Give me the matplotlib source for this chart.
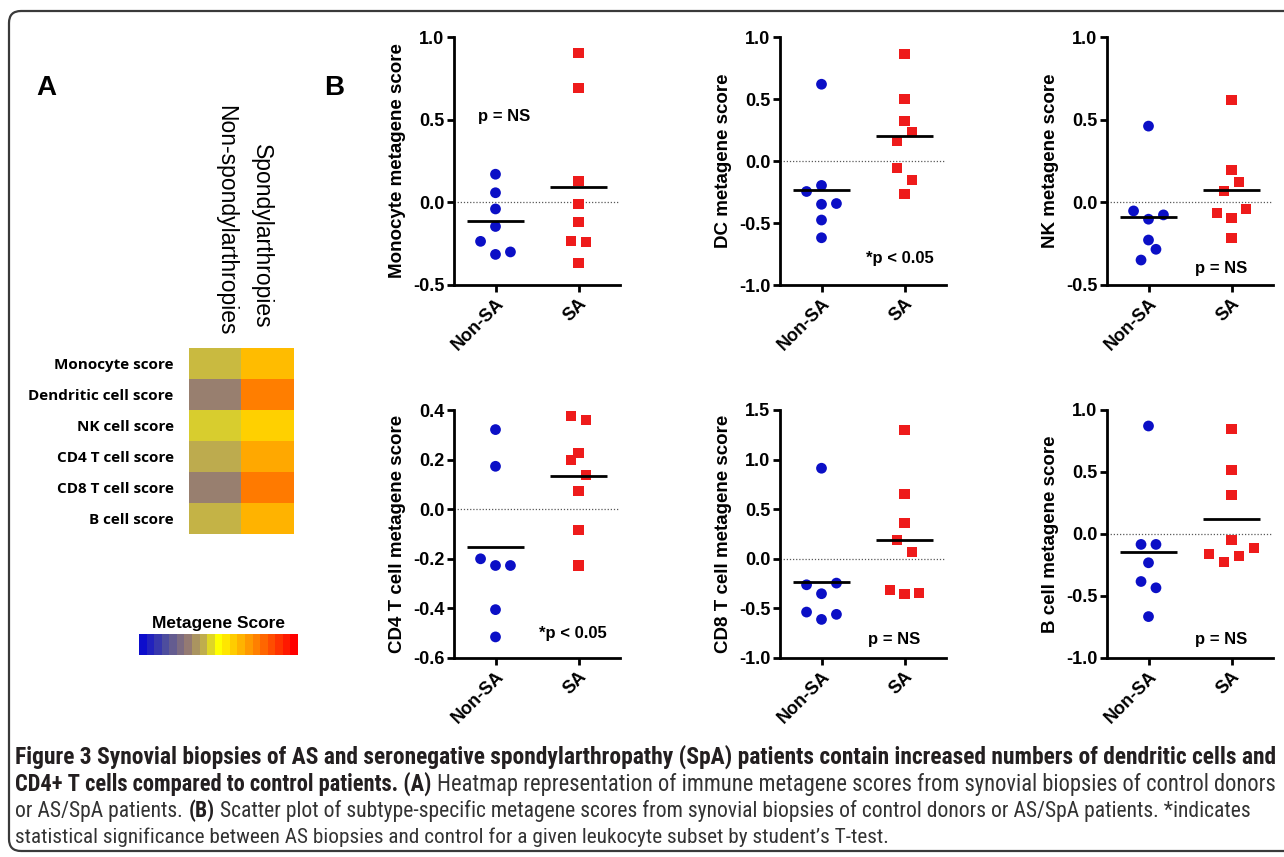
import numpy as np
import matplotlib
matplotlib.use("Agg")
import matplotlib as mpl
import matplotlib.pyplot as plt
from matplotlib import font_manager
from matplotlib.colors import LinearSegmentedColormap, Normalize
from matplotlib.patches import FancyBboxPatch
from matplotlib.ticker import FormatStrFormatter

plt.rcParams["font.family"] = ["Liberation Sans", "DejaVu Sans"]
plt.rcParams["axes.unicode_minus"] = False

# ---------------- data ----------------
groups = ["Non-SA", "SA"]

# heatmap (panel A)
heat_rows = ["Monocyte score", "Dendritic cell score", "NK cell score",
             "CD4 T cell score", "CD8 T cell score", "B cell score"]
heat_cols = ["Non-spondylarthropies", "Spondylarthropies"]
heat_non = [-0.17, -0.38, -0.12, -0.21, -0.38, -0.18]
heat_sa = [0.26, 0.50, 0.18, 0.34, 0.52, 0.29]

# scatter panels (panel B): values, and horizontal spread slot of each point
mono_non = [0.17, 0.058, -0.04, -0.146, -0.236, -0.315, -0.30]
mono_sa = [0.905, 0.69, 0.132, -0.009, -0.12, -0.234, -0.242, -0.365]
mono_non_slot = [0, 0, 0, 0, -2, 0, 2]
mono_sa_slot = [0, 0, 0, 0, 0, -1, 1, 0]

dc_non = [0.619, -0.197, -0.246, -0.349, -0.343, -0.476, -0.619]
dc_sa = [0.862, 0.497, 0.324, 0.23, 0.162, -0.059, -0.151, -0.27]
dc_non_slot = [0, 0, -2, 0, 2, 0, 0]
dc_sa_slot = [0, 0, 0, 1, -1, -1, 1, 0]

nk_non = [0.461, -0.052, -0.102, -0.076, -0.228, -0.284, -0.349]
nk_sa = [0.62, 0.198, 0.122, 0.071, -0.042, -0.062, -0.096, -0.217]
nk_non_slot = [0, -2, 0, 2, 0, 1, -1]
nk_sa_slot = [0, 0, 1, -1, 2, -2, 0, 0]

cd4_non = [0.321, 0.173, -0.20, -0.227, -0.227, -0.405, -0.515]
cd4_sa = [0.376, 0.361, 0.228, 0.199, 0.138, 0.074, -0.084, -0.227]
cd4_non_slot = [0, 0, -2, 0, 2, 0, 0]
cd4_sa_slot = [-1, 1, 0, -1, 1, 0, 0, 0]

cd8_non = [0.913, -0.262, -0.245, -0.352, -0.537, -0.56, -0.611]
cd8_sa = [1.302, 0.651, 0.359, 0.188, 0.067, -0.312, -0.359, -0.349]
cd8_non_slot = [0, -2, 2, 0, -2, 2, 0]
cd8_sa_slot = [0, 0, 0, -1, 1, -2, 0, 2]

b_non = [0.871, -0.084, -0.084, -0.232, -0.383, -0.434, -0.666]
b_sa = [0.846, 0.52, 0.318, -0.051, -0.159, -0.224, -0.181, -0.111]
b_non_slot = [0, -1, 1, 0, -1, 1, 0]
b_sa_slot = [0, 0, 0, 0, -3, -1, 1, 3]

caption = [
    [("Figure 3 Synovial biopsies of AS and seronegative spondylarthropathy (SpA) patients contain "
      "increased numbers of dendritic cells and", True)],
    [("CD4+ T cells compared to control patients. (A)", True),
     ("Heatmap representation of immune metagene scores from synovial biopsies of control donors", False)],
    [("or AS/SpA patients.", False), ("(B)", True),
     ("Scatter plot of subtype-specific metagene scores from synovial biopsies of control donors "
      "or AS/SpA patients. *indicates", False)],
    [("statistical significance between AS biopsies and control for a given leukocyte subset "
      "by student\u2019s T-test.", False)],
]

# ---------------- figure ----------------
W, H = 1284, 857
fig = plt.figure(figsize=(W / 100, H / 100), dpi=100)
fig.patch.set_facecolor("white")


def px_rect(x0, y0, x1, y1):
    return [x0 / W, 1 - y1 / H, (x1 - x0) / W, (y1 - y0) / H]


# rounded frame
frame = FancyBboxPatch((0.09, 0.06), 14.0, 8.40,
                       boxstyle="round,pad=0,rounding_size=0.12",
                       transform=fig.dpi_scale_trans, fill=False,
                       ec="#3a3a3a", lw=1.6)
fig.add_artist(frame)

fig.text(46 / W, 1 - 88 / H, "A", fontsize=20, fontweight="bold", ha="center", va="center")
fig.text(334 / W, 1 - 88 / H, "B", fontsize=20, fontweight="bold", ha="center", va="center")

# ---- heatmap ----
cmap = LinearSegmentedColormap.from_list("metagene", [
    (0.00, (0.05, 0.05, 0.80)),
    (0.15, (0.30, 0.30, 0.62)),
    (0.30, (0.58, 0.48, 0.45)),
    (0.40, (0.75, 0.68, 0.30)),
    (0.50, (1.00, 1.00, 0.00)),
    (0.75, (1.00, 0.50, 0.00)),
    (1.00, (1.00, 0.00, 0.00)),
])
norm = Normalize(-1, 1)

hax = fig.add_axes(px_rect(189, 348, 294, 534))
heat = np.column_stack([heat_non, heat_sa])
hax.imshow(heat, cmap=cmap, norm=norm, aspect="auto", interpolation="nearest")
hax.set_yticks(range(len(heat_rows)))
hax.set_yticklabels(heat_rows, fontfamily=["Open Sans", "DejaVu Sans"],
                    fontweight="bold", fontsize=11)
hax.tick_params(length=0, pad=11)
hax.set_xticks([])
for s in hax.spines.values():
    s.set_visible(False)
for xc, off, lab in zip([0.20, 0.89], [9, 14], heat_cols):
    hax.annotate(lab, xy=(xc, 1), xycoords=("data", "axes fraction"),
                 xytext=(0, off), textcoords="offset points",
                 rotation=-90, ha="center", va="bottom", fontsize=16.5)

cax = fig.add_axes(px_rect(139, 634, 298, 655))
cb = mpl.colorbar.ColorbarBase(cax, cmap=cmap.resampled(21), norm=norm,
                               orientation="horizontal")
cb.outline.set_visible(False)
cb.set_ticks([])
cax.set_title("Metagene Score", fontsize=12.5, fontweight="bold", pad=4)

# ---- scatter panels ----
blue = "#0b0fc6"
red = "#ee1b1b"
step = 0.09

panels = [
    ("Monocyte metagene score", mono_non, mono_sa, mono_non_slot, mono_sa_slot,
     (-0.5, 1.0), 0.5, "p = NS", (0.10, 0.52)),
    ("DC metagene score", dc_non, dc_sa, dc_non_slot, dc_sa_slot,
     (-1.0, 1.0), 0.5, "*p < 0.05", (0.95, -0.79)),
    ("NK metagene score", nk_non, nk_sa, nk_non_slot, nk_sa_slot,
     (-0.5, 1.0), 0.5, "p = NS", (0.88, -0.40)),
    ("CD4 T cell metagene score", cd4_non, cd4_sa, cd4_non_slot, cd4_sa_slot,
     (-0.6, 0.4), 0.2, "*p < 0.05", (0.93, -0.50)),
    ("CD8 T cell metagene score", cd8_non, cd8_sa, cd8_non_slot, cd8_sa_slot,
     (-1.0, 1.5), 0.5, "p = NS", (0.88, -0.81)),
    ("B cell metagene score", b_non, b_sa, b_non_slot, b_sa_slot,
     (-1.0, 1.0), 0.5, "p = NS", (0.88, -0.85)),
]

col_left = [454, 780, 1107]
row_top = [37, 410]
pw, ph = 166, 248

for i, (ylab, vnon, vsa, snon, ssa, ylim, ystep, note, npos) in enumerate(panels):
    x0 = col_left[i % 3]
    y0 = row_top[i // 3]
    ax = fig.add_axes(px_rect(x0, y0, x0 + pw, y0 + ph))

    ax.axhline(0, color="0.35", ls=(0, (1, 1.5)), lw=0.9, zorder=1)
    ax.scatter(0 + np.array(snon) * step, vnon, s=60, marker="o", color=blue,
               edgecolors="none", zorder=3)
    ax.scatter(1 + np.array(ssa) * step, vsa, s=52, marker="s", color=red,
               edgecolors="none", zorder=3)
    for gx, vals in enumerate([vnon, vsa]):
        m = np.mean(vals)
        ax.plot([gx - 0.34, gx + 0.34], [m, m], color="black", lw=2.0,
                solid_capstyle="butt", zorder=4)

    ax.set_xlim(-0.5, 1.5)
    ax.set_ylim(*ylim)
    ax.set_yticks(np.arange(ylim[0], ylim[1] + ystep / 2, ystep))
    ax.yaxis.set_major_formatter(FormatStrFormatter("%.1f"))
    ax.set_xticks([0, 1])
    ax.set_xticklabels(groups, rotation=45, ha="right", rotation_mode="anchor")
    ax.spines["top"].set_visible(False)
    ax.spines["right"].set_visible(False)
    for s in ("left", "bottom"):
        ax.spines[s].set_linewidth(2.0)
    ax.tick_params(width=2.0, length=5, labelsize=13, pad=2)
    for lab in ax.get_xticklabels() + ax.get_yticklabels():
        lab.set_fontweight("bold")
    ax.set_ylabel(ylab, fontsize=13.5, fontweight="bold", labelpad=5)
    ax.text(npos[0], npos[1], note, ha="center", va="center",
            fontsize=12, fontweight="bold")

# ---- caption ----
names = {f.name for f in font_manager.fontManager.ttflist}
cap_family = "Liberation Sans"
for cand in ["Liberation Sans Narrow", "Roboto Condensed", "Open Sans Condensed", "Liberation Sans"]:
    if cand in names:
        cap_family = cand
        break

renderer = fig.canvas.get_renderer()
cap_left = 15
baselines = [764, 791, 817, 843]
line_ends = [1280, 1277, 1253, 888]


def draw_line(line, yb, size):
    texts = []
    x = cap_left
    for piece, bold in line:
        t = fig.text(x / W, 1 - yb / H, piece, fontsize=size,
                     fontfamily=[cap_family, "DejaVu Sans"],
                     fontweight="bold" if bold else "normal",
                     color="#231f20" if bold else "#333333",
                     ha="left", va="baseline")
        texts.append(t)
        bb = t.get_window_extent(renderer)
        x = bb.x1 + 0.26 * size * 100 / 72
    return texts, texts[-1].get_window_extent(renderer).x1 - cap_left


for line, yb, xend in zip(caption, baselines, line_ends):
    trial, width = draw_line(line, yb, 12)
    for t in trial:
        t.remove()
    draw_line(line, yb, 12 * (xend - cap_left) / width)

fig.savefig("out.png", dpi=100)
